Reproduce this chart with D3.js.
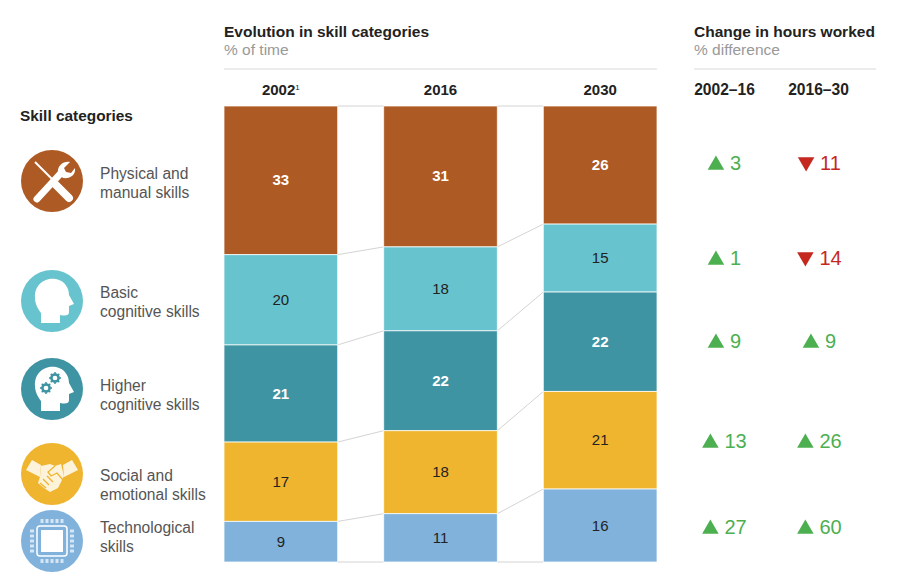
<!DOCTYPE html>
<html>
<head>
<meta charset="utf-8">
<script src="https://cdnjs.cloudflare.com/ajax/libs/d3/7.8.5/d3.min.js"></script>
<style>
    html, body { margin: 0; padding: 0; background: #fff; }
    svg { display: block; font-family: "Liberation Sans", Arial, sans-serif; }
</style>
</head>
<body>
<div id="chart"></div>
<script>
// Data
const years = ['2002', '2016', '2030'];
const skills = ['physical', 'basic', 'higher', 'social', 'tech'];
const skillLabels = [
    ['Physical and', 'manual skills'],
    ['Basic', 'cognitive skills'],
    ['Higher', 'cognitive skills'],
    ['Social and', 'emotional skills'],
    ['Technological', 'skills']
];
const share2002 = [32.6, 19.8, 21.3, 17.4, 8.9];
const share2016 = [30.9, 18.4, 21.9, 18.2, 10.6];
const share2030 = [25.9, 14.9, 21.8, 21.4, 16.0];
const periods = ['2002–16', '2016–30'];
const change0216 = [3, 1, 9, 13, 27];
const change1630 = [-11, -14, 9, 26, 60];

const colors = ['#ae5a24', '#67c3cd', '#3f94a3', '#efb52f', '#80b2dc'];
const GREEN = '#4caf50';
const RED = '#c5281f';

const svg = d3.select('#chart').append('svg')
    .attr('width', 910)
    .attr('height', 588);

// Scales
const x = d3.scaleBand().domain(years).range([224, 657]).paddingInner(0.288);
const y = d3.scaleLinear().domain([0, 100]).range([106, 562]);
const changeX = d3.scalePoint().domain(periods).range([724.5, 818.5]);
const rowY = d3.scaleOrdinal().domain(skills).range([170, 265, 348, 448, 534]);

// Stack the shares
const table = years.map((year, i) => {
    const row = { year };
    skills.forEach((s, j) => { row[s] = [share2002, share2016, share2030][i][j]; });
    return row;
});
const series = d3.stack().keys(skills)(table);

// Headers
const header = (text, sub, x0, x1) => {
    svg.append('text').attr('x', x0).attr('y', 37)
        .attr('font-size', 15.5).attr('font-weight', 700).attr('fill', '#222').text(text);
    svg.append('text').attr('x', x0).attr('y', 55)
        .attr('font-size', 15.5).attr('fill', '#999').text(sub);
    svg.append('line').attr('x1', x0).attr('x2', x1).attr('y1', 69).attr('y2', 69)
        .attr('stroke', '#d9d9d9').attr('stroke-width', 1.2);
};
header('Evolution in skill categories', '% of time', 224, 657);
header('Change in hours worked', '% difference', 694, 876);

const yearText = svg.selectAll('.year').data(years).enter().append('text')
    .attr('x', d => x(d) + x.bandwidth() / 2)
    .attr('y', 95)
    .attr('text-anchor', 'middle')
    .attr('font-size', 15)
    .attr('font-weight', 700)
    .attr('fill', '#222')
    .text(d => d);
yearText.filter(d => d === '2002').append('tspan')
    .attr('font-size', 8).attr('font-weight', 400).attr('dy', -5).text('1');

svg.append('text').attr('x', 20).attr('y', 121)
    .attr('font-size', 15.4).attr('font-weight', 700).attr('fill', '#222')
    .text('Skill categories');

// Connector lines between the bars
const edges = [...series.map(s => s.map(d => d[0])), series[series.length - 1].map(d => d[1])];
edges.forEach(edge => {
    d3.pairs(years.map((yr, i) => [yr, edge[i]])).forEach(([a, b]) => {
        svg.append('line')
            .attr('x1', x(a[0]) + x.bandwidth()).attr('y1', y(a[1]))
            .attr('x2', x(b[0])).attr('y2', y(b[1]))
            .attr('stroke', '#d4d4d4').attr('stroke-width', 1);
    });
});

// Bars
const layers = svg.selectAll('.layer').data(series).enter().append('g')
    .attr('fill', (d, i) => colors[i]);
layers.selectAll('rect').data(d => d).enter().append('rect')
    .attr('x', d => x(d.data.year))
    .attr('y', d => y(d[0]))
    .attr('width', x.bandwidth())
    .attr('height', d => y(d[1]) - y(d[0]))
    .attr('stroke', '#fff')
    .attr('stroke-opacity', 0.75)
    .attr('stroke-width', 1);
layers.selectAll('text').data(d => d).enter().append('text')
    .attr('x', d => x(d.data.year) + x.bandwidth() / 2)
    .attr('y', d => (y(d[0]) + y(d[1])) / 2 + 5)
    .attr('text-anchor', 'middle')
    .attr('font-size', 15)
    .attr('font-weight', function (d) { return skillIsDark(this.parentNode) ? 700 : 400; })
    .attr('fill', function (d) { return skillIsDark(this.parentNode) ? '#fff' : '#222'; })
    .text(d => Math.round(d[1] - d[0]));

function skillIsDark(node) {
    const k = d3.select(node).datum().key;
    return k === 'physical' || k === 'higher';
}

// Change columns
const changes = [change0216, change1630];
const triangle = d3.symbol().type(d3.symbolTriangle).size(118);
periods.forEach((period, c) => {
    svg.append('text')
        .attr('x', changeX(period))
        .attr('y', 95)
        .attr('text-anchor', 'middle')
        .attr('font-size', 15.6)
        .attr('font-weight', 700)
        .attr('fill', '#222')
        .text(period);

    skills.forEach((s, j) => {
        const v = changes[c][j];
        const color = v >= 0 ? GREEN : RED;
        const g = svg.append('g');
        const label = g.append('text')
            .attr('y', rowY(s))
            .attr('font-size', 20)
            .attr('fill', color)
            .text(Math.abs(v));
        const w = label.node().getComputedTextLength();
        const left = changeX(period) + c - (w + 22) / 2;
        label.attr('x', left + 22);
        g.append('path')
            .attr('d', triangle())
            .attr('fill', color)
            .attr('transform', `translate(${left + 8},${rowY(s) - (v >= 0 ? 5 : 8)}) rotate(${v >= 0 ? 0 : 180})`);
    });
});

// Legend text
const labelY = [179, 298, 391, 481, 533];
skillLabels.forEach((lines, j) => {
    lines.forEach((line, k) => {
        svg.append('text')
            .attr('x', 100)
            .attr('y', labelY[j] + k * 18.5)
            .attr('font-size', 15.6)
            .attr('fill', '#555')
            .text(line);
    });
});

// Legend icons, drawn around (0,0) in a circle of radius 31
const iconCentres = [181, 301, 389, 474, 541];
const headPath = 'M-17,-3 C-18,-17 -6,-24 4,-22 C13,-20 17,-13 17,-6 L22,3 L17,5 L17,11 C17,15 13,15 8,14 L8,22 L-11,22 L-11,12 C-14,8 -17,3 -17,-3 Z';

const drawTools = g => {
    g.append('path')
        .attr('d', 'M-17,-19 L5,3')
        .attr('stroke', '#fff').attr('stroke-width', 2).attr('fill', 'none');
    g.append('path')
        .attr('d', 'M3,3 L17,17')
        .attr('stroke', '#fff').attr('stroke-width', 8).attr('stroke-linecap', 'round');
    g.append('path')
        .attr('d', 'M-15,18 L9,-8')
        .attr('stroke', '#fff').attr('stroke-width', 7).attr('stroke-linecap', 'round');
    g.append('path')
        .attr('d', 'M6,-8 C5,-15 11,-20 18,-19 L12,-13 L14,-9 L19,-8 L23,-13 C24,-6 18,-2 11,-3 Z')
        .attr('fill', '#fff');
};

const drawGear = (g, cx, cy, r) => {
    g.append('circle').attr('cx', cx).attr('cy', cy).attr('r', r)
        .attr('fill', 'none').attr('stroke', colors[2]).attr('stroke-width', r * 0.7);
    d3.range(8).forEach(i => {
        const a = i * Math.PI / 4;
        g.append('circle')
            .attr('cx', cx + Math.cos(a) * r * 1.4)
            .attr('cy', cy + Math.sin(a) * r * 1.4)
            .attr('r', r * 0.28)
            .attr('fill', colors[2]);
    });
};

const drawHands = g => {
    g.append('path')
        .attr('d', 'M-26,-4 L-20,-14 L-11,-9 L-12,3 Z')
        .attr('fill', '#fdf3da');
    g.append('path')
        .attr('d', 'M26,-4 L20,-14 L11,-9 L12,3 Z')
        .attr('fill', '#fdf3da');
    g.append('path')
        .attr('d', 'M-11,-8 L-2,-10 L3,-8 L9,-10 L12,2 L6,14 L-2,18 L-8,14 L-14,9 L-12,3 Z')
        .attr('fill', '#fdf3da');
    g.append('path')
        .attr('d', 'M3,-8 L-4,-2 L-1,2 L5,-1 L11,6 M-9,5 L-3,11 M-5,2 L1,8 M-12,9 L-6,14')
        .attr('stroke', colors[3]).attr('stroke-width', 1.3).attr('fill', 'none');
};

const drawChip = g => {
    g.append('rect').attr('x', -15).attr('y', -15).attr('width', 30).attr('height', 30)
        .attr('rx', 3).attr('fill', 'none').attr('stroke', '#fff').attr('stroke-width', 1.5);
    g.append('rect').attr('x', -11).attr('y', -11).attr('width', 22).attr('height', 22)
        .attr('fill', '#fff');
    d3.range(-10, 11, 5).forEach(p => {
        g.append('rect').attr('x', p - 1.5).attr('y', -22).attr('width', 3).attr('height', 4).attr('fill', '#d5e5f4');
        g.append('rect').attr('x', p - 1.5).attr('y', 18).attr('width', 3).attr('height', 4).attr('fill', '#d5e5f4');
        g.append('rect').attr('x', -22).attr('y', p - 1.5).attr('width', 4).attr('height', 3).attr('fill', '#d5e5f4');
        g.append('rect').attr('x', 18).attr('y', p - 1.5).attr('width', 4).attr('height', 3).attr('fill', '#d5e5f4');
    });
};

const drawHead = g => g.append('path').attr('d', headPath).attr('fill', '#fff');

const iconDrawers = [
    drawTools,
    drawHead,
    g => { drawHead(g); drawGear(g, 3, -11, 3.6); drawGear(g, -6, -1, 3.6); },
    drawHands,
    drawChip
];

iconCentres.forEach((cy, j) => {
    const g = svg.append('g').attr('transform', `translate(52,${cy})`);
    g.append('circle').attr('r', 31).attr('fill', colors[j]);
    iconDrawers[j](g);
});
</script>
</body>
</html>
